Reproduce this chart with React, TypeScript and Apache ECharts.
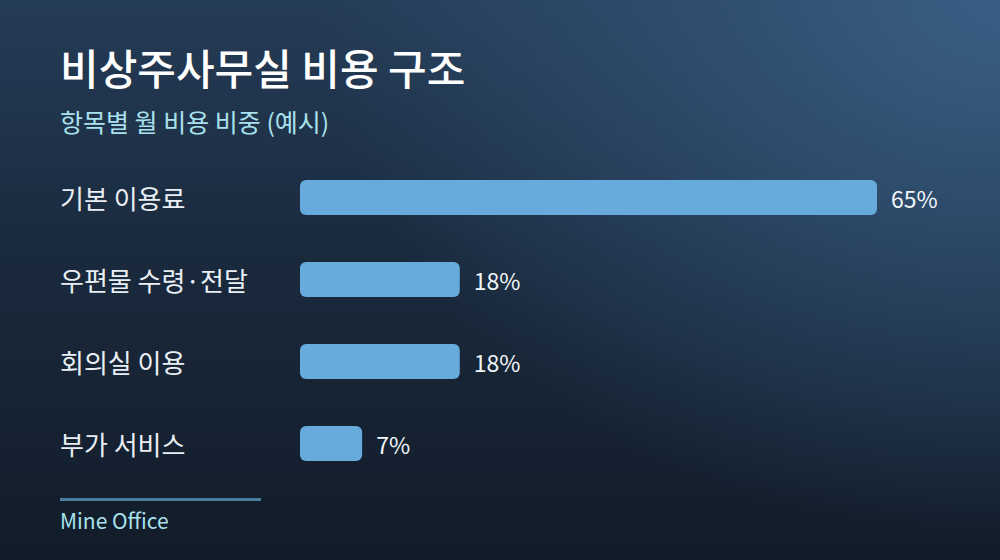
import React, { useEffect, useRef } from "react";
import * as echarts from "echarts";

const categories = ["기본 이용료", "우편물 수령·전달", "회의실 이용", "부가 서비스"];
const shares = [65, 18, 18, 7];
const titleText = "비상주사무실 비용 구조";
const subtitleText = "항목별 월 비용 비중 (예시)";
const footerText = "Mine Office";

const FONT = '"Noto Sans CJK KR", "Noto Sans", sans-serif';

export default function App() {
  const ref = useRef<HTMLDivElement>(null);
  useEffect(() => {
    if (!ref.current) return;
    const chart = echarts.init(ref.current, undefined, { renderer: "svg" });
    chart.setOption({
      animation: false,
      backgroundColor: "transparent",
      textStyle: { fontFamily: FONT },
      graphic: [
        {
          type: "text",
          left: 60,
          top: 45,
          style: { text: titleText, fill: "#ffffff", font: `500 42px ${FONT}` },
        },
        {
          type: "text",
          left: 60,
          top: 108,
          style: { text: subtitleText, fill: "#a9e2ee", font: `25px ${FONT}` },
        },
        {
          type: "rect",
          left: 60,
          top: 498,
          shape: { width: 201, height: 3 },
          style: { fill: "#4d7ca3" },
        },
        {
          type: "text",
          left: 60,
          top: 509,
          style: { text: footerText, fill: "#a9e2ee", font: `21px ${FONT}` },
        },
      ],
      grid: { left: 300, top: 156.5, width: 577, height: 328, containLabel: false },
      xAxis: {
        type: "value",
        min: 0,
        max: 65,
        show: false,
      },
      yAxis: {
        type: "category",
        inverse: true,
        data: categories,
        axisLine: { show: false },
        axisTick: { show: false },
        splitLine: { show: false },
        axisLabel: {
          align: "left",
          margin: 240,
          color: "#e9eff5",
          fontSize: 26,
          fontFamily: FONT,
        },
      },
      series: [
        {
          type: "bar",
          data: shares,
          barWidth: 35,
          itemStyle: { color: "#67aadc", borderRadius: 6 },
          label: {
            show: true,
            position: "right",
            distance: 14,
            formatter: "{c}%",
            color: "#f2f6fa",
            fontSize: 23,
            fontFamily: FONT,
          },
        },
      ],
    });
    return () => chart.dispose();
  }, []);
  return (
    <div
      style={{
        position: "absolute",
        left: 0,
        top: 0,
        width: 1000,
        height: 560,
        background:
          "radial-gradient(ellipse 85% 120% at 100% 0%, rgba(58,96,134,0.95) 0%, rgba(52,86,122,0.6) 40%, rgba(52,86,122,0) 80%), linear-gradient(180deg, #253c57 0%, #1a2a3d 45%, #121c29 100%)",
      }}
    >
      <div ref={ref} style={{ width: 1000, height: 560 }} />
    </div>
  );
}
